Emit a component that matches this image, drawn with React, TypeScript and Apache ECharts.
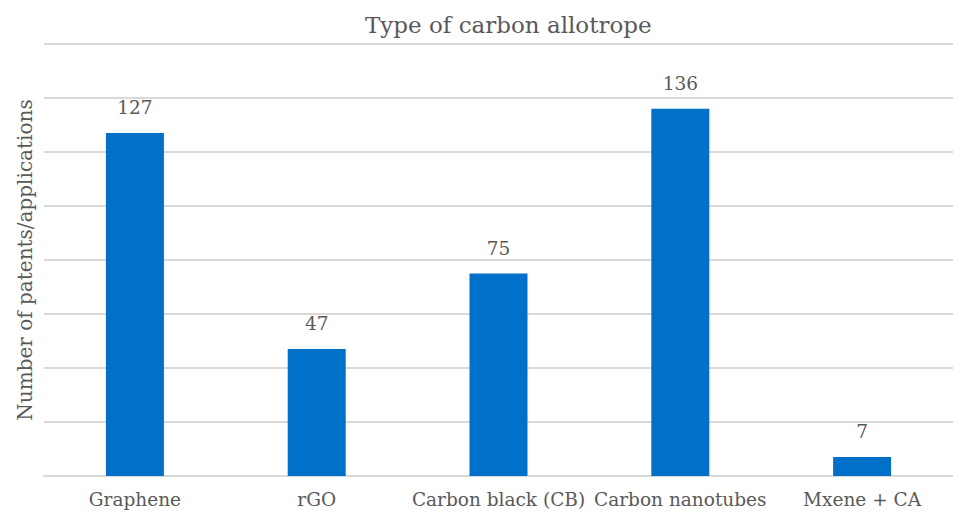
import React, { useEffect, useRef } from "react";
import * as echarts from "echarts";

const categories = ["Graphene", "rGO", "Carbon black (CB)", "Carbon nanotubes", "Mxene + CA"];
const counts = [127, 47, 75, 136, 7];
const titleText = "Type of carbon allotrope";
const yAxisName = "Number of patents/applications";

const FONT = "'DejaVu Serif', 'Liberation Serif', serif";
const TEXT_COLOR = "#595959";

export default function App() {
  const ref = useRef<HTMLDivElement>(null);

  useEffect(() => {
    if (!ref.current) return;
    const chart = echarts.init(ref.current, null, { renderer: "svg" });
    chart.setOption({
      animation: false,
      backgroundColor: "#ffffff",
      title: {
        text: titleText,
        left: 360,
        top: 8,
        textStyle: { fontFamily: FONT, fontSize: 23, fontWeight: "normal", color: TEXT_COLOR },
      },
      grid: { left: 44, right: 0, top: 44, bottom: 42 },
      xAxis: {
        type: "category",
        data: categories,
        axisLine: { lineStyle: { color: "#d9d9d9", width: 2 } },
        axisTick: { show: false },
        axisLabel: {
          interval: 0,
          hideOverlap: false,
          fontFamily: FONT,
          fontSize: 18.5,
          color: TEXT_COLOR,
          margin: 14,
        },
      },
      yAxis: {
        type: "value",
        min: 0,
        max: 160,
        interval: 20,
        name: yAxisName,
        nameLocation: "middle",
        nameGap: 9,
        nameTextStyle: { fontFamily: FONT, fontSize: 20, color: TEXT_COLOR },
        axisLine: { show: false },
        axisTick: { show: false },
        axisLabel: { show: false },
        splitLine: { lineStyle: { color: "#d9d9d9", width: 2 } },
      },
      series: [
        {
          type: "bar",
          data: counts,
          barWidth: 58,
          itemStyle: { color: "#0070C8" },
          label: {
            show: true,
            position: "top",
            distance: 16,
            fontFamily: FONT,
            fontSize: 18.5,
            color: TEXT_COLOR,
          },
        },
      ],
    });
    return () => chart.dispose();
  }, []);

  return (
    <div
      ref={ref}
      style={{ position: "fixed", left: 0, top: 0, width: 953, height: 518 }}
    />
  );
}
